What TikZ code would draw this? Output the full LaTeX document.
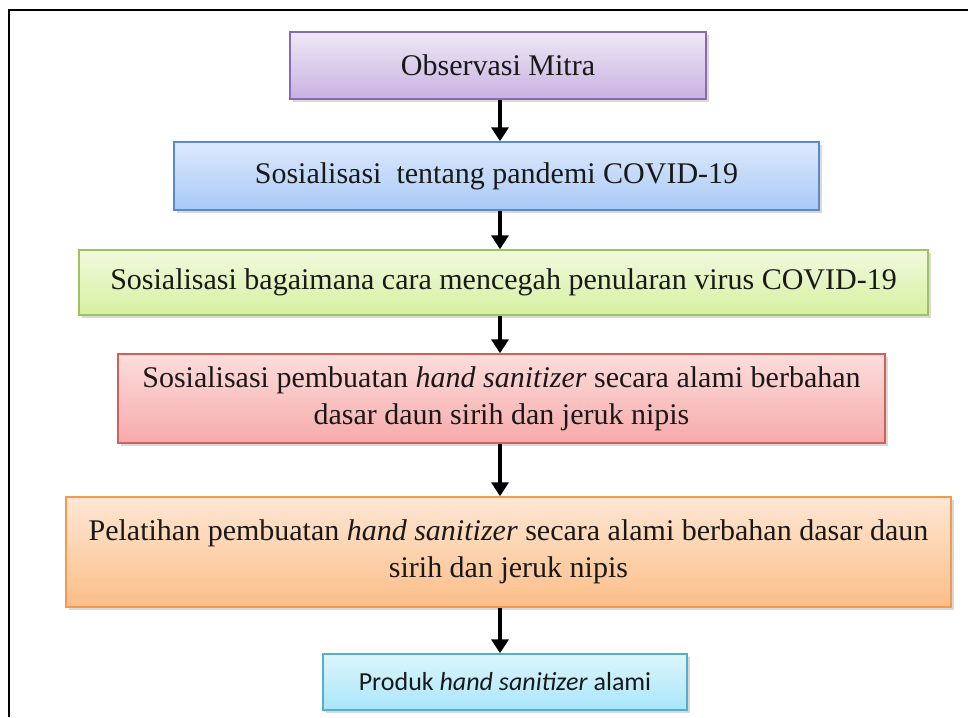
\documentclass[tikz,border=0pt]{standalone}
\usepackage{fontspec}
\setmainfont{Liberation Serif}
\newfontfamily\calibri{Carlito}
\usetikzlibrary{arrows.meta,shadows}

\definecolor{ungutop}{HTML}{EEE8F6}
\definecolor{ungubot}{HTML}{C8B2E0}
\definecolor{unguline}{HTML}{8B6BB0}
\definecolor{birutop}{HTML}{DDE9FC}
\definecolor{birubot}{HTML}{A9C9F6}
\definecolor{biruline}{HTML}{5B8ACB}
\definecolor{hijautop}{HTML}{F1FADF}
\definecolor{hijaubot}{HTML}{D6F0A0}
\definecolor{hijauline}{HTML}{9DC25E}
\definecolor{merahtop}{HTML}{FDDDDD}
\definecolor{merahbot}{HTML}{F7AAAA}
\definecolor{merahline}{HTML}{D0605C}
\definecolor{oranyetop}{HTML}{FEE7D4}
\definecolor{oranyebot}{HTML}{FBBE88}
\definecolor{oranyeline}{HTML}{F39A50}
\definecolor{tosca top}{HTML}{DDF6FD}
\definecolor{tosca bot}{HTML}{A9E5FA}
\definecolor{toscaline}{HTML}{52B0CC}

\tikzset{
  stage/.style={draw, line width=0.75pt, inner sep=0pt, align=center,
    text=black!90, font=\fontsize{15}{18.5}\selectfont,
    drop shadow={opacity=0.3, shadow xshift=1.5pt, shadow yshift=-1.5pt}},
  flow/.style={line width=2pt, -{Triangle[width=8.5pt,length=7pt]}}
}

\begin{document}
\begin{tikzpicture}[x=0.5pt, y=-0.5pt]
  \useasboundingbox (0,0) rectangle (968,717);
  % bingkai
  \draw[line width=1pt] (9,717) -- (9,10) -- (968,10);
  \coordinate (axis) at (500,0);

  \node[stage, draw=unguline, top color=ungutop, bottom color=ungubot,
    minimum width=208pt, minimum height=33.5pt] (observasi) at (498,65.5)
    {Observasi Mitra};
  \node[stage, draw=biruline, top color=birutop, bottom color=birubot,
    minimum width=322.5pt, minimum height=34pt] (pandemi) at (496.5,176)
    {Sosialisasi\ \ tentang pandemi COVID-19};
  \node[stage, draw=hijauline, top color=hijautop, bottom color=hijaubot,
    minimum width=424.5pt, minimum height=32.5pt] (cegah) at (503.5,282.5)
    {Sosialisasi bagaimana cara mencegah penularan virus COVID-19};
  \node[stage, draw=merahline, top color=merahtop, bottom color=merahbot,
    minimum width=383.5pt, minimum height=44.5pt] (sosialisasi) at (501.5,398.5)
    {Sosialisasi pembuatan \textit{hand sanitizer} secara alami berbahan\\
     dasar daun sirih dan jeruk nipis};
  \node[stage, draw=oranyeline, top color=oranyetop, bottom color=oranyebot,
    minimum width=442.5pt, minimum height=55pt] (pelatihan) at (508.5,552)
    {Pelatihan pembuatan \textit{hand sanitizer} secara alami berbahan dasar daun\\
     sirih dan jeruk nipis};
  \node[stage, draw=toscaline, top color=tosca top, bottom color=tosca bot,
    font=\calibri\fontsize{13}{16}\selectfont,
    minimum width=182pt, minimum height=28pt] (produk) at (505,682)
    {Produk \textit{hand sanitizer} alami};

  \foreach \a/\b in {observasi/pandemi, pandemi/cegah, cegah/sosialisasi,
                     sosialisasi/pelatihan, pelatihan/produk}
    \draw[flow] (\a.south -| axis) -- (\b.north -| axis);
\end{tikzpicture}
\end{document}
